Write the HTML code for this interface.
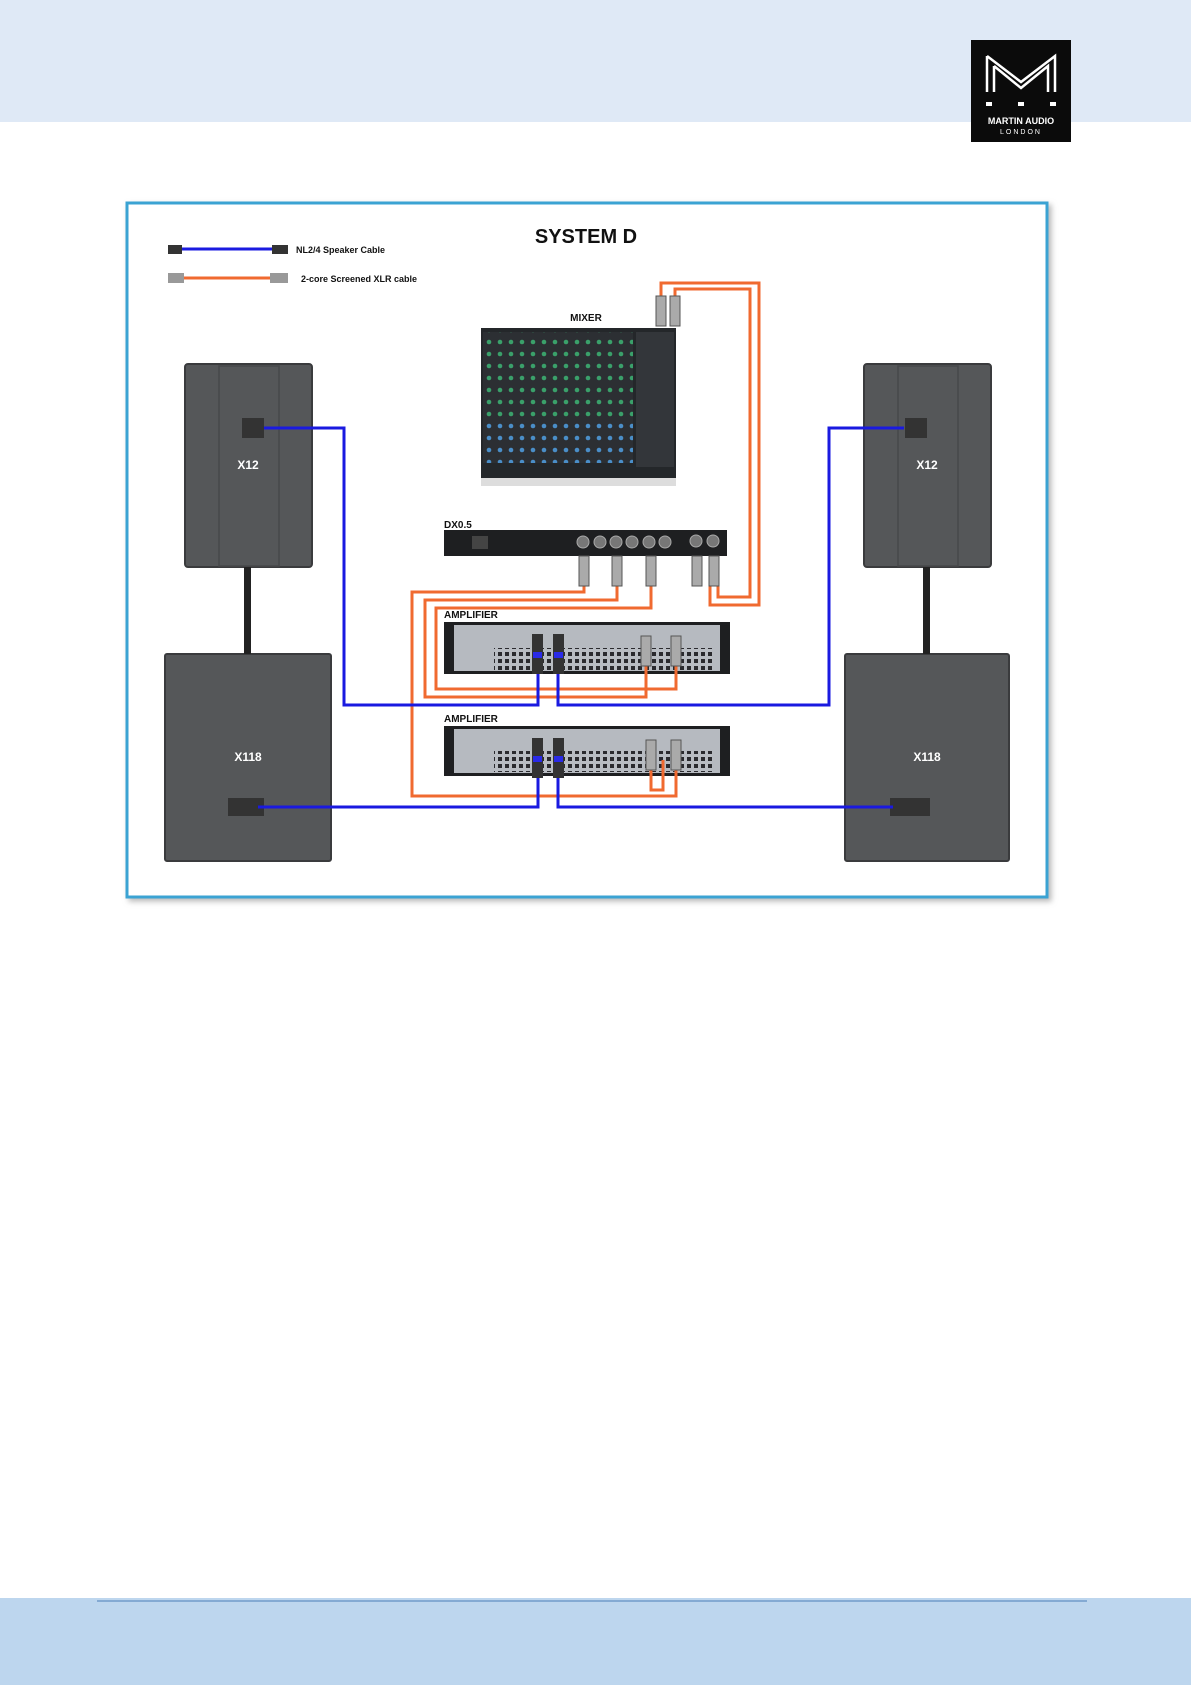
<!DOCTYPE html>
<html><head><meta charset="utf-8"><style>
html,body{margin:0;padding:0;background:#fff}
body{width:1191px;height:1685px;position:relative;overflow:hidden;font-family:"Liberation Sans",sans-serif}
</style></head><body>
<svg width="1191" height="1685" viewBox="0 0 1191 1685" xmlns="http://www.w3.org/2000/svg" style="position:absolute;left:0;top:0">
<defs>
<pattern id="grill" width="7" height="7" patternUnits="userSpaceOnUse"><rect width="7" height="7" fill="#b8bcc2"/><rect x="1" y="1" width="4" height="4" fill="#2a2a2e"/></pattern>
<pattern id="mix" width="11" height="12" patternUnits="userSpaceOnUse"><rect width="11" height="12" fill="#2c2f33"/><circle cx="5" cy="6" r="2.3" fill="#3aa06a"/></pattern>
<pattern id="mix2" width="11" height="12" patternUnits="userSpaceOnUse"><rect width="11" height="12" fill="#2c2f33"/><circle cx="5" cy="6" r="2.3" fill="#4a8ec8"/></pattern>
<filter id="sh"><feDropShadow dx="3" dy="3" stdDeviation="3" flood-color="#888" flood-opacity="0.6"/></filter>
</defs>
<!-- header -->
<rect x="0" y="0" width="1191" height="122" fill="#dfe9f6"/>
<rect x="971" y="40" width="100" height="102" fill="#0b0b0b"/>
<path d="M987 56 L987 92 M987 56 L1021 82 L1055 56 L1055 92 M994 66 L994 92 M994 66 L1021 88 L1048 66 L1048 92" stroke="#fff" stroke-width="2.5" fill="none"/>
<rect x="986" y="102" width="6" height="4" fill="#fff"/><rect x="1018" y="102" width="6" height="4" fill="#fff"/><rect x="1050" y="102" width="6" height="4" fill="#fff"/>
<text x="1021" y="124" font-size="9" fill="#fff" text-anchor="middle" font-weight="bold">MARTIN AUDIO</text>
<text x="1021" y="134" font-size="7" fill="#fff" text-anchor="middle" letter-spacing="2">LONDON</text>
<!-- footer -->
<rect x="0" y="1598" width="1191" height="87" fill="#bdd6ee"/>
<line x1="97" y1="1601" x2="1087" y2="1601" stroke="#4a7fb8" stroke-width="1"/>
<!-- frame -->
<rect x="127" y="203" width="920" height="694" fill="#fff" stroke="#3aa3d3" stroke-width="3" filter="url(#sh)"/>
<text x="586" y="243" font-size="20" font-weight="bold" text-anchor="middle" fill="#111">SYSTEM D</text>
<!-- legend -->
<line x1="172" y1="249" x2="282" y2="249" stroke="#1a1ae0" stroke-width="3"/>
<rect x="168" y="245" width="14" height="9" fill="#333"/><rect x="272" y="245" width="16" height="9" fill="#333"/>
<text x="296" y="253" font-size="9" font-weight="bold" fill="#111">NL2/4 Speaker Cable</text>
<line x1="172" y1="278" x2="282" y2="278" stroke="#f06a30" stroke-width="3"/>
<rect x="168" y="273" width="16" height="10" fill="#999"/><rect x="270" y="273" width="18" height="10" fill="#999"/>
<text x="301" y="282" font-size="9" font-weight="bold" fill="#111">2-core Screened XLR cable</text>
<!-- speakers -->
<g fill="#555759" stroke="#3a3b3d" stroke-width="2">
<rect x="185" y="364" width="127" height="203" rx="3"/>
<rect x="864" y="364" width="127" height="203" rx="3"/>
<rect x="165" y="654" width="166" height="207" rx="2"/>
<rect x="845" y="654" width="164" height="207" rx="2"/>
</g>
<g fill="none" stroke="#47484a" stroke-width="1.5">
<rect x="219" y="366" width="60" height="200"/><rect x="898" y="366" width="60" height="200"/>
</g>
<rect x="244" y="567" width="7" height="87" fill="#222"/>
<rect x="923" y="567" width="7" height="87" fill="#222"/>
<g font-size="12" font-weight="bold" fill="#fff" text-anchor="middle">
<text x="248" y="469">X12</text><text x="927" y="469">X12</text>
<text x="248" y="761">X118</text><text x="927" y="761">X118</text>
</g>
<rect x="242" y="418" width="22" height="20" fill="#333"/><rect x="905" y="418" width="22" height="20" fill="#333"/>
<rect x="228" y="798" width="36" height="18" fill="#333"/><rect x="890" y="798" width="40" height="18" fill="#333"/>
<!-- mixer -->
<text x="586" y="321" font-size="10" font-weight="bold" text-anchor="middle" fill="#111">MIXER</text>
<rect x="481" y="328" width="195" height="158" fill="#24272a"/>
<rect x="483" y="332" width="150" height="86" fill="url(#mix)"/>
<rect x="483" y="418" width="150" height="45" fill="url(#mix2)"/>
<rect x="636" y="332" width="38" height="135" fill="#33363a"/>
<rect x="481" y="478" width="195" height="8" fill="#ddd"/>
<!-- DX0.5 -->
<text x="444" y="528" font-size="10" font-weight="bold" fill="#111">DX0.5</text>
<rect x="444" y="530" width="283" height="26" fill="#1e1f21"/>
<g fill="#777" stroke="#aaa"><circle cx="583" cy="542" r="6"/><circle cx="600" cy="542" r="6"/><circle cx="616" cy="542" r="6"/><circle cx="632" cy="542" r="6"/><circle cx="649" cy="542" r="6"/><circle cx="665" cy="542" r="6"/><circle cx="696" cy="541" r="6"/><circle cx="713" cy="541" r="6"/></g>
<rect x="472" y="536" width="16" height="13" fill="#444"/>
<!-- amps -->
<text x="444" y="618" font-size="10" font-weight="bold" fill="#111">AMPLIFIER</text>
<rect x="444" y="622" width="286" height="52" fill="#1e1f21"/>
<rect x="454" y="625" width="266" height="46" fill="#b6bac0"/>
<rect x="494" y="648" width="218" height="22" fill="url(#grill)"/>
<text x="444" y="722" font-size="10" font-weight="bold" fill="#111">AMPLIFIER</text>
<rect x="444" y="726" width="286" height="50" fill="#1e1f21"/>
<rect x="454" y="729" width="266" height="44" fill="#b6bac0"/>
<rect x="494" y="751" width="218" height="21" fill="url(#grill)"/>
<!-- orange cables -->
<g fill="none" stroke="#f06a30" stroke-width="3">
<path d="M661 300 V283 H759 V605 H710 V585"/>
<path d="M675 300 V289 H750 V597 H718 V585"/>
<path d="M584 585 V592 H412 V796 H676 V760"/>
<path d="M617 585 V600 H425 V697 H646 V665"/>
<path d="M651 585 V608 H436 V689 H676 V665"/>
<path d="M651 760 V790 H663 V760"/>
</g>
<!-- blue cables -->
<g fill="none" stroke="#1a1ae0" stroke-width="3">
<path d="M264 428 H344 V705 H538 V670"/>
<path d="M558 670 V705 H829 V428 H904"/>
<path d="M258 807 H538 V775"/>
<path d="M558 775 V807 H893"/>
</g>
<!-- connectors -->
<g fill="#aaa" stroke="#555">
<rect x="656" y="296" width="10" height="30"/><rect x="670" y="296" width="10" height="30"/>
<rect x="579" y="556" width="10" height="30"/><rect x="612" y="556" width="10" height="30"/><rect x="646" y="556" width="10" height="30"/>
<rect x="692" y="556" width="10" height="30"/><rect x="709" y="556" width="10" height="30"/>
<rect x="641" y="636" width="10" height="30"/><rect x="671" y="636" width="10" height="30"/>
<rect x="646" y="740" width="10" height="30"/><rect x="671" y="740" width="10" height="30"/>
</g>
<g fill="#333"><rect x="532" y="634" width="11" height="40"/><rect x="553" y="634" width="11" height="40"/>
<rect x="532" y="738" width="11" height="40"/><rect x="553" y="738" width="11" height="40"/></g>
<g fill="#2a2ae8"><rect x="533" y="652" width="9" height="6"/><rect x="554" y="652" width="9" height="6"/><rect x="533" y="756" width="9" height="6"/><rect x="554" y="756" width="9" height="6"/></g>
</svg>
</body></html>
